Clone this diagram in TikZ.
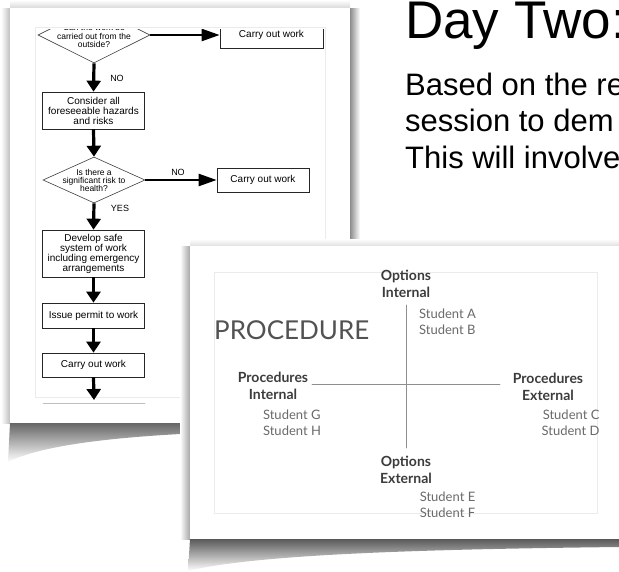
\documentclass[tikz,border=0pt]{standalone}
\usepackage{fontspec}
\setmainfont{Liberation Sans}
\newfontfamily\quadfont{Lato}
\usetikzlibrary{arrows.meta,shapes.geometric}
\definecolor{inkgray}{HTML}{3C3C3C}
\definecolor{softgray}{HTML}{6A6A6A}
\definecolor{axisgray}{HTML}{8E8E8E}
\definecolor{framegray}{HTML}{EBEBEB}

\begin{document}
\begin{tikzpicture}[x=1pt,y=-1pt, line cap=round,
  flowbox/.style={draw=black!85, line width=0.7pt, align=center, inner sep=0pt, minimum width=102pt, font=\fontsize{10}{10}\selectfont},
  decision/.style={draw=black!75, line width=0.6pt, diamond, inner sep=0pt},
  asktext/.style={align=center, font=\fontsize{8.5}{8.3}\selectfont},
  downarrow/.style={line width=3.2pt, line cap=butt, -{Triangle[width=14pt,length=11pt]}},
  sidearrow/.style={line width=2.4pt, line cap=butt, -{Triangle[width=12pt,length=18pt]}},
  answer/.style={font=\fontsize{9}{9}\selectfont},
  slidetext/.style={anchor=base west, inner sep=0pt},
  quadhead/.style={align=center, text=inkgray, font=\quadfont\bfseries\fontsize{14}{17}\selectfont},
  student/.style={text=softgray, font=\quadfont\fontsize{13}{16}\selectfont},
  axis/.style={draw=axisgray, line width=0.8pt}]
  \clip (0,0) rectangle (619,571);

  % flowchart card
  \shade[left color=white, right color=black!25] (1,8) rectangle (10,423);
  \shade[left color=black!45, right color=white] (350,8) rectangle (360,423);
  \shade[top color=white, bottom color=black!15] (10,0) rectangle (350,8);
  \shade[top color=black!60, bottom color=white] (10,423) -- (352,423) -- (352,429) .. controls (200,431) and (60,436) .. (8,462) -- cycle;
  \fill[white] (10,8) rectangle (350,423);
  \draw[framegray, line width=0.5pt] (35,27) rectangle (325,397);

  \begin{scope}
    \clip (34,29) rectangle (330,410);
    \node[decision, minimum width=112pt, minimum height=56pt] (outside) at (94,35) {};
    \node[asktext] (outsidetxt) at (94,36) {Can the work be\\carried out from the\\outside?};
    \node[flowbox, minimum width=103pt, minimum height=26pt] (work1) at (271.5,35) {Carry out work};
    \node[flowbox, minimum height=37pt] (hazards) at (93.5,110.5) {Consider all\\foreseeable hazards\\and risks};
    \node[decision, minimum width=102pt, minimum height=46pt] (risk) at (94,180) {};
    \node[asktext] (risktxt) at (94,180.5) {Is there a\\significant risk to\\health?};
    \node[flowbox, minimum width=92pt, minimum height=24pt] (work2) at (263,180) {Carry out work};
    \node[flowbox, minimum height=47pt] (develop) at (93.5,253.5) {Develop safe\\system of work\\including emergency\\arrangements};
    \node[flowbox, minimum height=25pt] (permit) at (93.5,315.5) {Issue permit to work};
    \node[flowbox, minimum height=24pt] (work3) at (93.5,365) {Carry out work};
    \coordinate (next) at (94,400);
    \node[answer] (no1) at (117,78) {NO};
    \node[answer] (no2) at (178,172.5) {NO};
    \node[answer] (yes) at (120,208) {YES};

    \draw[sidearrow] (outside.east) -- (work1.west);
    \draw[downarrow] (outside.south) -- (hazards.north);
    \draw[downarrow] (hazards.south) -- (risk.north);
    \draw[sidearrow] (risk.east) -- (work2.west);
    \draw[downarrow] (risk.south) -- (develop.north);
    \draw[downarrow] (develop.south) -- (permit.north);
    \draw[downarrow] (permit.south) -- (work3.north);
    \draw[downarrow] (work3.south) -- (next);
    \draw[black!25, line width=0.5pt] (43,403) -- (145,403);
  \end{scope}

  % slide text
  \node[slidetext, font=\fontsize{53}{53}\selectfont] (title) at (405,38) {Day Two:};
  \node[slidetext, font=\fontsize{31}{31}\selectfont] (intro1) at (405,95) {Based on the re};
  \node[slidetext, font=\fontsize{31}{31}\selectfont] (intro2) at (405,131.5) {session to dem};
  \node[slidetext, font=\fontsize{31}{31}\selectfont] (intro3) at (405,168) {This will involve};

  % procedure card
  \shade[left color=white, right color=black!35] (180,246) rectangle (190,539);
  \shade[top color=white, bottom color=black!12] (190,239) rectangle (619,246);
  \shade[top color=black!65, bottom color=white] (190,539) -- (619,539) -- (619,547) .. controls (450,549) and (260,553) .. (188,571) -- cycle;
  \fill[white] (190,246) rectangle (619,539);
  \draw[framegray, line width=0.5pt] (214,272) rectangle (597,513);

  \begin{scope}
    \clip (200,250) rectangle (610,516);
    \node[quadhead] (optin) at (406,283.5) {Options\\Internal};
    \node[student, align=left] (studab) at (447.5,322) {Student A\\Student B};
    \node[anchor=west, inner sep=0pt, text=black!68, font=\quadfont\fontsize{26}{26}\selectfont] (proc) at (214,330) {PROCEDURE};
    \node[quadhead] (procin) at (273,385.5) {Procedures\\Internal};
    \node[student, align=left] (studgh) at (292,422.5) {Student G\\Student H};
    \node[quadhead] (procex) at (548,387) {Procedures\\External};
    \node[student, align=right] (studcd) at (570.5,422.5) {Student C\\Student D};
    \node[quadhead] (optex) at (406,470) {Options\\External};
    \node[student, align=left] (studef) at (447.5,505) {Student E\\Student F};
    \coordinate (axtop) at (406,305);
    \coordinate (axbot) at (406,448);
    \coordinate (axleft) at (312,384);
    \coordinate (axright) at (500,384);
    \draw[axis] (axtop) -- (axbot);
    \draw[axis] (axleft) -- (axright);
  \end{scope}
\end{tikzpicture}
\end{document}
